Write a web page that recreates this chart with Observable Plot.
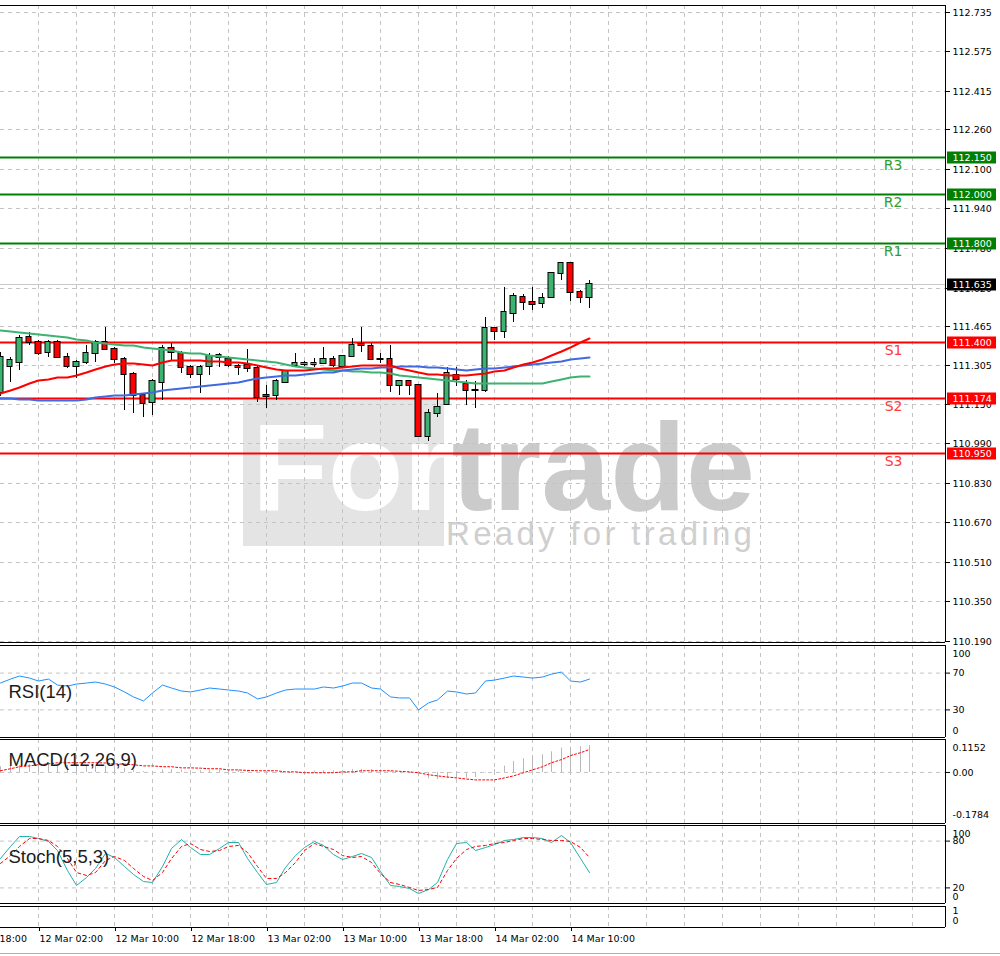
<!DOCTYPE html>
<html><head><meta charset="utf-8">
<script src="https://cdn.jsdelivr.net/npm/d3@7"></script>
<script src="https://cdn.jsdelivr.net/npm/@observablehq/plot@0.6"></script>
<style>
html,body{margin:0;padding:0;background:#fff;}
#chart{position:relative;width:1000px;height:956px;overflow:hidden;font-family:"DejaVu Sans",sans-serif;}
#chart svg{position:absolute;left:0;}
#wm{position:absolute;left:0;top:0;width:1000px;height:956px;}
#wm .box{position:absolute;left:243px;top:400px;width:201px;height:146px;background:#e4e4e4;}
#wm .big{position:absolute;left:252px;top:405px;font:bold 124px/124px "Liberation Sans",sans-serif;color:#fff;white-space:nowrap;}
#wm .big span{color:#cbcbcb;}
#wm .tag{position:absolute;left:446px;top:514px;font:33px/40px "Liberation Sans",sans-serif;letter-spacing:3.3px;color:#cfcfcf;white-space:nowrap;}
#bottomline{position:absolute;left:0;top:953px;width:1000px;height:1px;background:#b0b0b0;}
</style></head><body>
<div id="chart">
  <div id="wm"><div class="box"></div><div class="big">For<span>trade</span></div><div class="tag">Ready for trading</div></div>
  <div id="bottomline"></div>
</div>
<script>
// ---------- DATA ----------
const firstCandleTime = "2019-03-11T22:00Z"; // hourly candles
const opens = [111.198,111.303,111.319,111.420,111.400,111.360,111.400,111.339,111.303,111.319,
111.355,111.400,111.372,111.331,111.271,111.186,111.157,111.238,111.376,111.355,
111.299,111.271,111.303,111.339,111.331,111.303,111.307,111.295,111.186,111.186,
111.238,111.307,111.311,111.311,111.315,111.331,111.303,111.343,111.390,111.384,
111.331,111.331,111.226,111.242,111.226,111.020,111.113,111.149,111.267,111.230,
111.206,111.206,111.457,111.444,111.517,111.582,111.562,111.558,111.582,111.679,
111.719,111.602,111.582];
const highs = [111.360,111.339,111.428,111.440,111.408,111.408,111.408,111.355,111.327,111.388,
111.408,111.461,111.380,111.339,111.279,111.194,111.250,111.388,111.396,111.364,
111.307,111.307,111.355,111.355,111.343,111.311,111.372,111.303,111.226,111.250,
111.287,111.355,111.323,111.335,111.380,111.343,111.347,111.416,111.461,111.396,
111.355,111.388,111.246,111.246,111.230,111.129,111.194,111.299,111.299,111.246,
111.242,111.501,111.461,111.622,111.598,111.594,111.622,111.598,111.683,111.724,
111.724,111.610,111.651];
const lows = [111.182,111.238,111.287,111.388,111.347,111.339,111.335,111.295,111.254,111.311,
111.319,111.368,111.315,111.125,111.113,111.097,111.105,111.165,111.327,111.275,
111.254,111.194,111.267,111.299,111.299,111.267,111.279,111.157,111.133,111.165,
111.234,111.299,111.303,111.299,111.311,111.299,111.299,111.339,111.360,111.327,
111.315,111.198,111.186,111.186,111.016,111.000,111.097,111.145,111.222,111.145,
111.133,111.198,111.408,111.416,111.481,111.529,111.529,111.537,111.578,111.651,
111.566,111.558,111.537];
const closes = [111.339,111.327,111.416,111.400,111.355,111.400,111.339,111.303,111.319,111.355,
111.400,111.372,111.331,111.271,111.186,111.153,111.242,111.376,111.360,111.299,
111.271,111.299,111.343,111.347,111.307,111.299,111.295,111.177,111.182,111.242,
111.283,111.315,111.315,111.315,111.331,111.307,111.343,111.388,111.386,111.331,
111.329,111.226,111.242,111.226,111.020,111.113,111.137,111.275,111.250,111.206,
111.204,111.457,111.444,111.521,111.586,111.562,111.554,111.578,111.679,111.719,
111.602,111.582,111.635];
const maRed = [111.194,111.206,111.218,111.234,111.246,111.250,111.258,111.258,111.267,111.279,
111.291,111.303,111.311,111.315,111.315,111.311,111.307,111.319,111.327,111.327,
111.327,111.327,111.323,111.323,111.319,111.319,111.315,111.307,111.299,111.291,
111.287,111.287,111.287,111.291,111.295,111.295,111.299,111.303,111.307,111.307,
111.307,111.307,111.295,111.287,111.279,111.271,111.271,111.267,111.267,111.267,
111.271,111.275,111.283,111.287,111.299,111.311,111.319,111.331,111.347,111.364,
111.380,111.400,111.416];
const maBlue = [111.173,111.173,111.169,111.169,111.165,111.165,111.165,111.165,111.165,111.169,
111.177,111.182,111.186,111.186,111.190,111.194,111.198,111.206,111.210,111.214,
111.218,111.222,111.226,111.230,111.234,111.238,111.246,111.254,111.258,111.263,
111.267,111.267,111.271,111.275,111.279,111.279,111.287,111.291,111.295,111.295,
111.299,111.299,111.303,111.303,111.303,111.299,111.299,111.295,111.291,111.287,
111.291,111.295,111.295,111.299,111.303,111.307,111.311,111.315,111.319,111.323,
111.331,111.335,111.339];
const maGreen = [111.448,111.444,111.440,111.436,111.432,111.428,111.424,111.420,111.412,111.408,
111.400,111.396,111.392,111.388,111.388,111.380,111.376,111.372,111.368,111.360,
111.355,111.355,111.347,111.343,111.339,111.335,111.331,111.327,111.323,111.319,
111.311,111.303,111.299,111.295,111.291,111.287,111.287,111.283,111.283,111.279,
111.279,111.275,111.267,111.263,111.258,111.254,111.250,111.246,111.242,111.238,
111.234,111.234,111.234,111.234,111.234,111.234,111.234,111.234,111.242,111.250,
111.258,111.263,111.263];
const rsi = [59.2,63.5,66.8,64.6,61.4,63.5,57.0,55.9,58.1,59.2,
60.3,58.1,54.9,49.5,44.1,39.7,48.4,57.0,53.8,50.5,
49.5,51.6,53.8,52.7,51.6,50.5,48.4,41.9,44.1,48.4,
51.6,52.7,52.7,52.7,54.9,53.8,55.9,59.2,59.2,53.8,
52.7,44.1,43.0,43.0,30.0,37.6,40.8,50.5,49.5,47.3,
48.4,61.4,62.4,64.6,66.8,65.7,64.6,65.7,68.9,71.1,
61.4,60.3,63.5];
const macdHist = [0.020,0.022,0.025,0.027,0.028,0.028,0.027,0.025,0.022,0.022,
0.023,0.022,0.020,0.015,0.008,0.003,0.004,0.009,0.010,0.008,
0.006,0.006,0.007,0.008,0.008,0.007,0.006,0.001,-0.002,-0.002,
0.000,0.002,0.004,0.005,0.006,0.006,0.007,0.010,0.011,0.010,
0.009,0.004,0.000,-0.003,-0.015,-0.022,-0.025,-0.022,-0.020,-0.020,
-0.018,-0.002,0.010,0.022,0.038,0.048,0.055,0.062,0.072,0.085,
0.088,0.090,0.094];
const macdSignal = [0.006,0.013,0.020,0.023,0.027,0.030,0.034,0.034,0.034,0.034,
0.034,0.033,0.030,0.029,0.027,0.023,0.023,0.020,0.020,0.016,
0.016,0.015,0.013,0.013,0.009,0.009,0.007,0.006,0.006,0.006,
0.002,0.002,-0.001,-0.001,-0.001,-0.001,0.002,0.002,0.006,0.006,
0.006,0.006,0.004,0.002,-0.001,-0.008,-0.012,-0.016,-0.019,-0.023,
-0.026,-0.026,-0.026,-0.019,-0.012,-0.001,0.009,0.020,0.034,0.045,
0.059,0.069,0.080];
const stochMain = [57.7,73.1,85.9,85.9,83.3,79.5,67.9,42.3,23.1,33.3,
44.9,64.1,59.0,47.4,37.2,28.2,26.9,47.4,70.5,82.0,
71.8,62.8,62.8,70.5,78.2,78.2,57.7,39.7,24.4,26.9,
46.2,61.5,71.8,79.5,74.4,62.8,56.4,60.3,64.1,59.0,
41.0,23.1,21.8,19.2,12.8,17.9,26.9,56.4,76.9,78.2,
67.9,71.8,75.6,80.8,82.0,84.6,84.6,83.3,78.2,87.2,
78.2,57.7,39.7];
const stochSignal = [51.3,61.5,73.1,83.3,83.3,80.8,73.1,57.7,39.7,35.9,
39.7,55.1,60.3,55.1,44.9,34.6,29.5,39.7,57.7,73.1,
76.9,69.2,66.7,67.9,73.1,74.4,65.4,47.4,32.1,32.1,
39.7,52.6,67.9,76.9,73.1,69.2,61.5,59.0,60.3,52.6,
38.5,26.9,24.4,20.5,16.7,17.9,20.5,42.3,57.7,69.2,
73.1,74.4,76.9,78.2,80.8,83.3,83.3,82.0,80.8,80.8,
79.5,71.8,59.0];
const levelNames = ["R3","R2","R1","S1","S2","S3"];
const levelValues = [112.150,112.000,111.800,111.400,111.174,110.950];
const currentPrice = 111.635;
const priceTicks = [112.735,112.575,112.415,112.260,112.100,111.940,111.780,111.620,111.465,111.305,111.150,110.990,110.830,110.670,110.510,110.350,110.190];
const xTicks = ["2019-03-11T18:00Z","2019-03-12T02:00Z","2019-03-12T10:00Z","2019-03-12T18:00Z","2019-03-13T02:00Z","2019-03-13T10:00Z","2019-03-13T18:00Z","2019-03-14T02:00Z","2019-03-14T10:00Z"];
const rsiLabels = {top: "100", ticks: [70, 30], bottom: "0"};
const macdLabels = {top: "0.1152", bottom: "-0.1784"};
const stochLabels = {top: "100", ticks: [80, 20], bottom: "0"};

// ---------- LAYOUT ----------
const HOUR = 3600e3, PX_PER_BAR = 9.5, FRAME_W = 945;
const t0 = Date.parse(firstCandleTime);
const xAt = px => new Date(t0 + px / PX_PER_BAR * HOUR);
const times = opens.map((_, i) => new Date(t0 + i * HOUR));
const xDomain = [xAt(0), xAt(FRAME_W)];
const gridTimes = d3.range(4, 100, 4).map(i => new Date(t0 + i * HOUR));
const halfBody = 16 * 60e3;
const fmt3 = d3.format(".3f");
const GRID = {stroke: "#c4c4c4", strokeOpacity: 1, strokeDasharray: "4,4"};
const GREEN_UP = "#3cb371", RED_DN = "#ff0000";

const candles = times.map((t, i) => ({t, o: opens[i], h: highs[i], l: lows[i], c: closes[i]}));
const series = arr => times.map((t, i) => ({t, v: arr[i]}));
const levels = levelNames.map((name, i) => ({name, value: levelValues[i]}));
const levelColor = d => d.name[0] === "R" ? "#008000" : "#ff0000";
const levelTextColor = d => d.name[0] === "R" ? "#2f9e2f" : "#ff3a3a";

const chart = document.getElementById("chart");
// border on top, bottom and right only (no visible left edge, as in the source)
const borders = yDom => [
  Plot.ruleY([yDom[0], yDom[1]], {stroke: "black"}),
  Plot.ruleX([xDomain[1]], {stroke: "black"})
];
function panel({top, height, mt, mb, y, marks}) {
  const svg = Plot.plot({
    width: 1000, height, marginLeft: 0, marginRight: 1000 - FRAME_W, marginTop: mt, marginBottom: mb,
    x: {type: "utc", domain: xDomain, axis: null, round: true},
    y: {...y, axis: null},
    style: {background: "transparent", fontFamily: "DejaVu Sans, sans-serif", fontSize: "9.5px", color: "black", overflow: "visible"},
    marks: [...marks, ...borders(y.domain)]
  });
  svg.style.position = "absolute";
  svg.style.top = top + "px";
  svg.style.left = "0px";
  chart.append(svg);
  return svg;
}
const rightLabel = (txt, anchor, dy) => Plot.text([txt], {text: d => d, frameAnchor: anchor, dx: 7, dy, textAnchor: "start", lineAnchor: anchor.startsWith("top") ? "top" : anchor.startsWith("bottom") ? "bottom" : "middle", fill: "black"});
const panelTitle = (txt, dy) => Plot.text([txt], {text: d => d, frameAnchor: "left", dx: 8, dy, textAnchor: "start", fontSize: 18.5, fontFamily: "Liberation Sans, Arial, sans-serif", fill: "#1c1c1c"});

// ---------- MAIN PRICE PANEL ----------
panel({
  top: 0, height: 643, mt: 5, mb: 1,
  y: {domain: [110.186, 112.763], round: true},
  marks: [
    Plot.gridY(priceTicks, GRID),
    Plot.gridX(gridTimes, GRID),
    Plot.axisY(priceTicks, {anchor: "right", tickSize: 4, tickPadding: 3, tickFormat: fmt3, label: null}),
    Plot.ruleY([currentPrice], {stroke: "#c8c8c8", strokeWidth: 1}),
    Plot.ruleY(levels, {y: "value", stroke: levelColor, strokeWidth: 2}),
    Plot.text(levels, {y: "value", text: "name", frameAnchor: "right", dx: -43, dy: 8, fill: levelTextColor, fontSize: 14, fontFamily: "DejaVu Sans, sans-serif"}),
    Plot.ruleX(candles, {x: "t", y1: "l", y2: "h", stroke: "black", strokeWidth: 1}),
    Plot.rect(candles, {x1: d => new Date(+d.t - halfBody), x2: d => new Date(+d.t + halfBody), y1: "o", y2: "c",
      fill: d => d.c >= d.o ? GREEN_UP : RED_DN, stroke: "black", strokeWidth: 1, insetTop: -0.5, insetBottom: -0.5}),
    Plot.line(series(maGreen), {x: "t", y: "v", stroke: "#3cb371", strokeWidth: 2}),
    Plot.line(series(maBlue), {x: "t", y: "v", stroke: "#4169e1", strokeWidth: 2}),
    Plot.line(series(maRed), {x: "t", y: "v", stroke: "#ff0000", strokeWidth: 2}),
    Plot.ruleY(levels, {y: "value", x1: () => xAt(FRAME_W + 2), x2: () => xAt(996), stroke: levelColor, strokeWidth: 12}),
    Plot.text(levels, {y: "value", text: d => fmt3(d.value), frameAnchor: "right", dx: 7, textAnchor: "start", fill: "white"}),
    Plot.ruleY([currentPrice], {x1: () => xAt(FRAME_W + 2), x2: () => xAt(996), stroke: "black", strokeWidth: 12}),
    Plot.text([currentPrice], {y: d => d, text: d => fmt3(d), frameAnchor: "right", dx: 7, textAnchor: "start", fill: "white"})
  ]
});

// ---------- RSI ----------
panel({
  top: 643, height: 95, mt: 2, mb: 1,
  y: {domain: [0, 100]},
  marks: [
    Plot.gridY(rsiLabels.ticks, GRID),
    Plot.gridX(gridTimes, GRID),
    Plot.axisY(rsiLabels.ticks, {anchor: "right", tickSize: 4, tickPadding: 3, label: null}),
    rightLabel(rsiLabels.top, "top-right", 5),
    rightLabel(rsiLabels.bottom, "bottom-right", -4),
    Plot.line(series(rsi), {x: "t", y: "v", stroke: "#1e90ff", strokeWidth: 1}),
    panelTitle("RSI(14)", 1)
  ]
});

// ---------- MACD ----------
panel({
  top: 737, height: 87, mt: 2, mb: 1,
  y: {domain: [-0.1784, 0.1152]},
  marks: [
    Plot.gridY([0], GRID),
    Plot.gridX(gridTimes, GRID),
    Plot.axisY([0], {anchor: "right", tickSize: 4, tickPadding: 3, tickFormat: d3.format(".2f"), label: null}),
    rightLabel(macdLabels.top, "top-right", 5),
    rightLabel(macdLabels.bottom, "bottom-right", -6),
    Plot.ruleX(series(macdHist), {x: "t", y1: 0, y2: "v", stroke: "#b8b8b8", strokeWidth: 1}),
    Plot.line(series(macdSignal), {x: "t", y: "v", stroke: "#ff0000", strokeWidth: 1, strokeDasharray: "2,2"}),
    panelTitle("MACD(12,26,9)", -21)
  ]
});

// ---------- STOCH ----------
panel({
  top: 823, height: 81, mt: 2, mb: 1,
  y: {domain: [0, 100]},
  marks: [
    Plot.gridY(stochLabels.ticks, GRID),
    Plot.gridX(gridTimes, GRID),
    Plot.axisY(stochLabels.ticks, {anchor: "right", tickSize: 4, tickPadding: 3, label: null}),
    rightLabel(stochLabels.top, "top-right", 5),
    rightLabel(stochLabels.bottom, "bottom-right", -4),
    Plot.line(series(stochMain), {x: "t", y: "v", stroke: "#20b2aa", strokeWidth: 1}),
    Plot.line(series(stochSignal), {x: "t", y: "v", stroke: "#ff0000", strokeWidth: 1, strokeDasharray: "3,3"}),
    panelTitle("Stoch(5,5,3)", -7)
  ]
});

// ---------- EMPTY PANEL + TIME AXIS ----------
panel({
  top: 903, height: 53, mt: 3, mb: 29,
  y: {domain: [0, 1]},
  marks: [
    Plot.gridX(gridTimes, GRID),
    rightLabel("1", "top-right", 1),
    rightLabel("0", "right", 4),
    Plot.axisX(xTicks.map(s => new Date(s)), {anchor: "bottom", tickSize: 4, tickPadding: 4, textAnchor: "start", dx: 1, tickFormat: d3.utcFormat("%-d %b %H:%M"), label: null})
  ]
});
</script>
</body></html>
